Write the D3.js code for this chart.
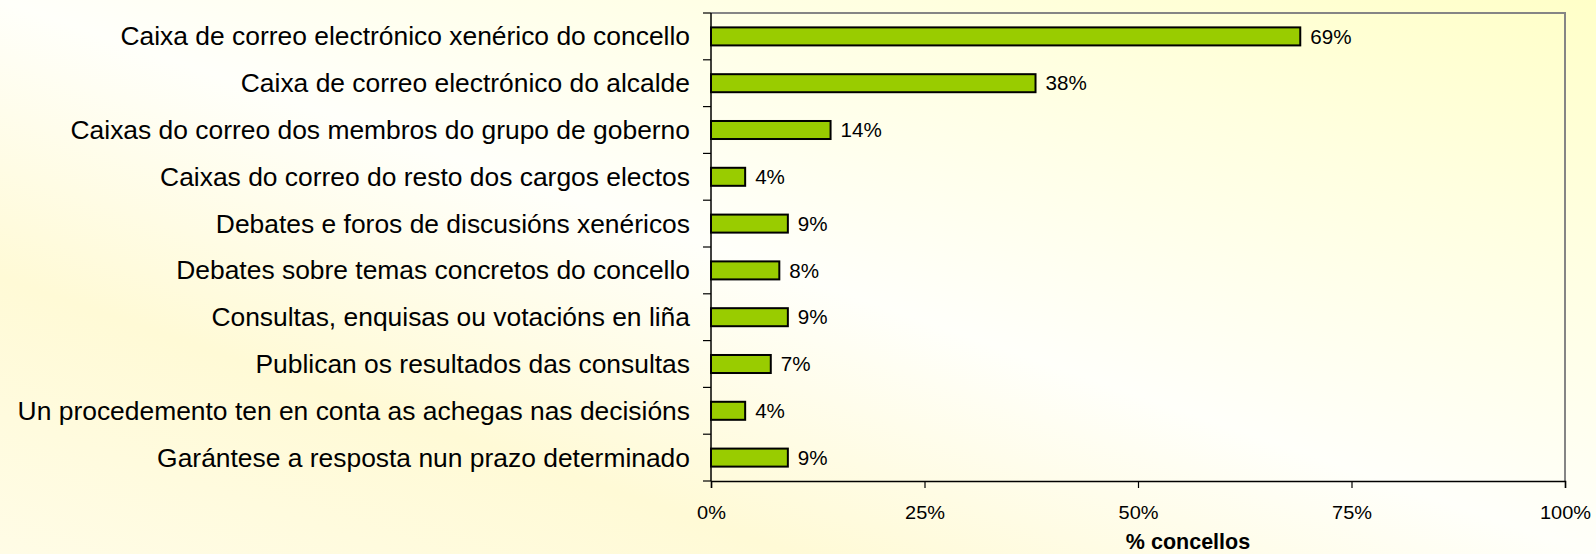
<!DOCTYPE html>
<html>
<head>
<meta charset="utf-8">
<script src="https://cdn.jsdelivr.net/npm/d3@7"></script>
<style>
  html, body { margin: 0; padding: 0; background: #ffffff; }
  svg { display: block; font-family: "Liberation Sans", Arial, sans-serif; }
</style>
</head>
<body>
<svg id="chart" width="1596" height="554"></svg>
<script>
// Canles de participación cidadá nas webs municipais
const categories = [
  "Caixa de correo electrónico xenérico do concello",
  "Caixa de correo electrónico do alcalde",
  "Caixas do correo dos membros do grupo de goberno",
  "Caixas do correo do resto dos cargos electos",
  "Debates e foros de discusións xenéricos",
  "Debates sobre temas concretos do concello",
  "Consultas, enquisas ou votacións en liña",
  "Publican os resultados das consultas",
  "Un procedemento ten en conta as achegas nas decisións",
  "Garántese a resposta nun prazo determinado"
];
const values = [69, 38, 14, 4, 9, 8, 9, 7, 4, 9];
const xTicks = [0, 25, 50, 75, 100];
const xTitle = "% concellos";

const W = 1596, H = 554;
const margin = { top: 13, right: 31, bottom: 73, left: 711 };
const svg = d3.select("#chart");

// slightly widened glyphs, as in the original export
function wideText(sel, sx) {
  sel.each(function () {
    const t = d3.select(this);
    const tx = +t.attr("x"), ty = +t.attr("y");
    t.attr("x", 0).attr("y", 0)
      .attr("transform", `translate(${tx},${ty}) scale(${sx},1)`);
  });
}

// soft yellow diagonal background
const defs = svg.append("defs");
const grad = defs.append("linearGradient")
  .attr("id", "bg").attr("x1", 0).attr("y1", 1).attr("x2", 1).attr("y2", 0);
[[0, "#fffce6"], [0.25, "#fffad6"], [0.5, "#fffffa"], [0.78, "#ffffe0"], [1, "#ffffc8"]]
  .forEach(([o, c]) => grad.append("stop").attr("offset", o).attr("stop-color", c));
svg.append("rect").attr("width", W).attr("height", H).attr("fill", "url(#bg)");

const x = d3.scaleLinear().domain([0, 100]).range([margin.left, W - margin.right]);
const y = d3.scaleBand().domain(categories).range([margin.top, H - margin.bottom]).paddingInner(0.615).paddingOuter(0.3075);

// plot frame (top and right in grey)
svg.append("path")
  .attr("d", `M${x(0)},${margin.top}H${x(100)}V${H - margin.bottom}`)
  .attr("fill", "none").attr("stroke", "#858585").attr("stroke-width", 2);

// bars
svg.append("g").selectAll("rect").data(values).join("rect")
  .attr("x", x(0))
  .attr("y", (d, i) => y(categories[i]))
  .attr("width", d => x(d) - x(0))
  .attr("height", y.bandwidth())
  .attr("fill", "#99cc00")
  .attr("stroke", "#000").attr("stroke-width", 2);

// value labels
svg.append("g").selectAll("text").data(values).join("text")
  .attr("x", d => x(d) + 10)
  .attr("y", (d, i) => y(categories[i]) + y.bandwidth() / 2)
  .attr("dy", "0.36em")
  .attr("font-size", 20).attr("fill", "#000")
  .text(d => d + "%")
  .call(wideText, 1.03);

// category axis: ticks at band boundaries, labels right-aligned
const step = y.step();
const bounds = d3.range(categories.length + 1).map(i => margin.top + i * step);
const yAxis = svg.append("g");
yAxis.append("line").attr("x1", x(0)).attr("x2", x(0))
  .attr("y1", margin.top).attr("y2", H - margin.bottom)
  .attr("stroke", "#000").attr("stroke-width", 1.5);
yAxis.selectAll("line.tick").data(bounds).join("line").attr("class", "tick")
  .attr("x1", x(0) - 8).attr("x2", x(0)).attr("y1", d => d).attr("y2", d => d)
  .attr("stroke", "#000").attr("stroke-width", 1.2);
yAxis.selectAll("text").data(categories).join("text")
  .attr("x", x(0) - 21)
  .attr("y", d => y(d) + y.bandwidth() / 2)
  .attr("dy", "0.35em")
  .attr("text-anchor", "end")
  .attr("font-size", 25.5).attr("fill", "#000")
  .text(d => d)
  .call(wideText, 1.036);

// value axis
const xAxis = svg.append("g").attr("transform", `translate(0,${H - margin.bottom})`)
  .call(d3.axisBottom(x).tickValues(xTicks).tickFormat(d => d + "%").tickSize(7).tickPadding(18));
xAxis.select(".domain").attr("stroke", "#000").attr("stroke-width", 1.5);
xAxis.selectAll(".tick line").attr("stroke", "#000").attr("stroke-width", 1.2);
xAxis.selectAll(".tick text").attr("font-size", 19).attr("fill", "#000")
  .attr("font-family", "Liberation Sans, Arial, sans-serif")
  .attr("transform", "scale(1.05,1)");

svg.append("text")
  .attr("x", 1188).attr("y", 549)
  .attr("text-anchor", "middle")
  .attr("font-size", 21.5).attr("font-weight", "bold").attr("fill", "#000")
  .text(xTitle);
</script>
</body>
</html>
